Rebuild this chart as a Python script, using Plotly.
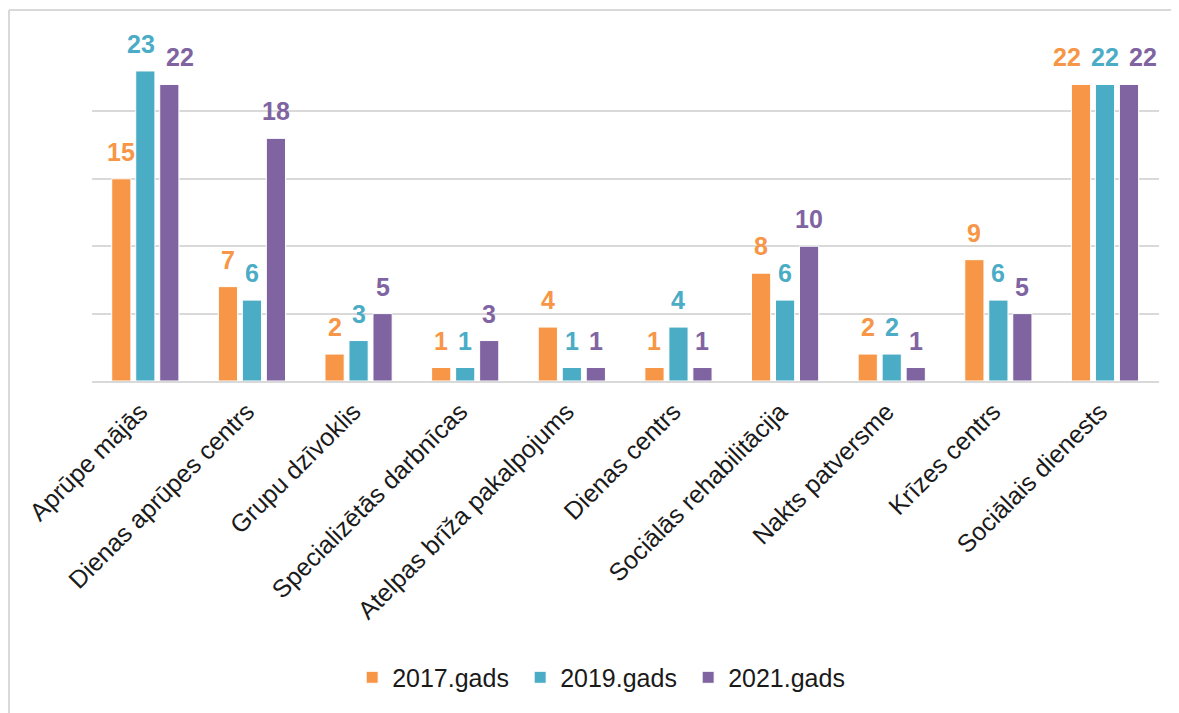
import plotly.graph_objects as go

# categories and values
categories = ["Aprūpe mājās", "Dienas aprūpes centrs", "Grupu dzīvoklis",
              "Specializētās darbnīcas", "Atelpas brīža pakalpojums",
              "Dienas centrs", "Sociālās rehabilitācija", "Nakts patversme",
              "Krīzes centrs", "Sociālais dienests"]
v2017 = [15, 7, 2, 1, 4, 1, 8, 2, 9, 22]
v2019 = [23, 6, 3, 1, 1, 4, 6, 2, 6, 22]
v2021 = [22, 18, 5, 3, 1, 1, 10, 1, 5, 22]

series = [("2017.gads", v2017, "#F79646"),
          ("2019.gads", v2019, "#4BACC6"),
          ("2021.gads", v2021, "#8064A2")]

FONT = "Liberation Sans, Arial, sans-serif"

# pixel offset of each bar inside a group, and small label nudges
slot_px = [-24, 0, 24]
nudge = [[0] * 10 for _ in series]
nudge[0][9] = -14
nudge[1][0] = -4
nudge[2][0] = 11
nudge[2][9] = 14

fig = go.Figure()
for i, (name, vals, col) in enumerate(series):
    fig.add_trace(go.Bar(
        x=categories, y=vals, name=name,
        marker=dict(color=col, line=dict(color="white", width=1)),
    ))
    for j, (c, v) in enumerate(zip(categories, vals)):
        fig.add_annotation(
            x=c, y=v, text=str(v), showarrow=False,
            xanchor="center", yanchor="bottom",
            xshift=slot_px[i] + nudge[i][j], yshift=11,
            font=dict(family=FONT, size=25, color=col, weight="bold"),
        )

fig.update_layout(
    width=1179, height=713,
    margin=dict(l=84, r=28, t=36, b=340),
    paper_bgcolor="white", plot_bgcolor="white",
    barmode="group", bargap=0.325, bargroupgap=0.2,
    font=dict(family=FONT, color="#1a1a1a", size=25),
    legend=dict(orientation="h", x=0.48, xanchor="center", y=-0.88, yanchor="middle",
                font=dict(size=25), itemwidth=30, entrywidth=123,
                traceorder="normal"),
    showlegend=True,
)
fig.update_xaxes(tickangle=-45, showline=True, linecolor="#D9D9D9", linewidth=2,
                 ticks="", tickfont=dict(size=25, color="#1a1a1a"),
                 ticklabelstandoff=4, ticklabelshift=-5)
fig.update_yaxes(range=[0, 25], dtick=5, showticklabels=False, showgrid=True,
                 gridcolor="#D9D9D9", gridwidth=2, zeroline=False)

# outer frame of the chart area (left and top edges visible)
fig.add_shape(type="line", xref="paper", yref="paper",
              x0=-0.0778, y0=1.1009, x1=1.2, y1=1.1009,
              line=dict(color="#D9D9D9", width=2))
fig.add_shape(type="line", xref="paper", yref="paper",
              x0=-0.0778, y0=1.1009, x1=-0.0778, y1=-1.2,
              line=dict(color="#D9D9D9", width=2))

fig.write_html("out.html")
